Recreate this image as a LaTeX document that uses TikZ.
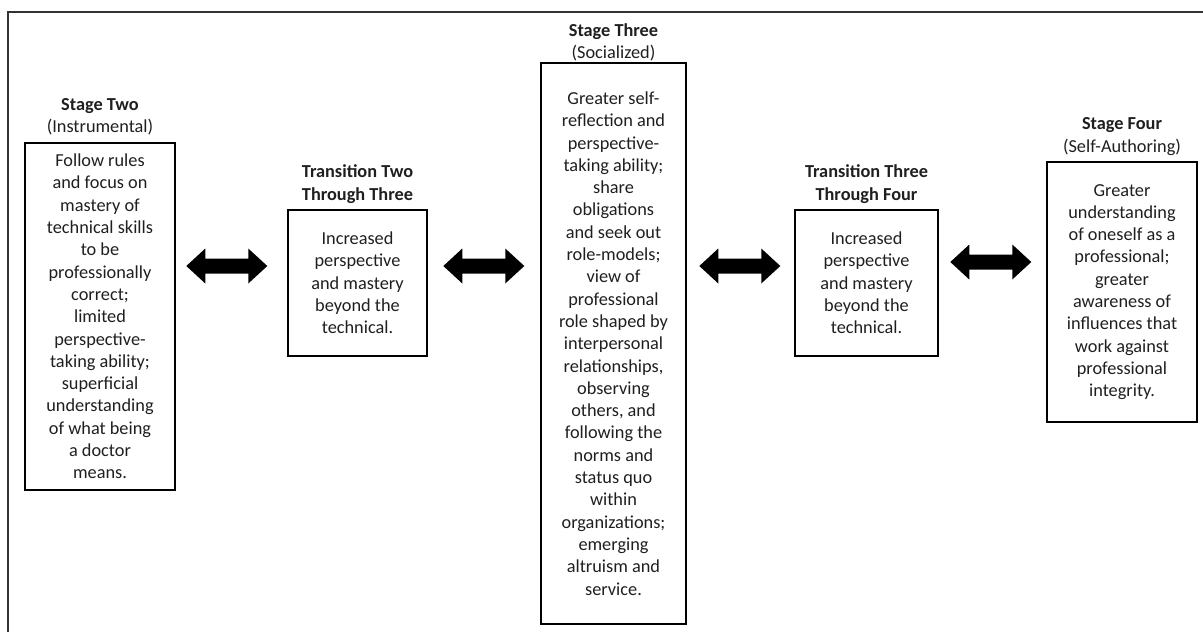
\documentclass[tikz,border=0pt]{standalone}
\usepackage{fontspec}
\setmainfont{Carlito}
\usetikzlibrary{calc}
\newcommand\fatarr[1]{\fill[black] (#1) -- ++(19,-17.5) -- ++(0,10) -- ++(43,0) -- ++(0,-10) -- ++(19,17.5) -- ++(-19,17.5) -- ++(0,-10) -- ++(-43,0) -- ++(0,10) -- cycle;}
\begin{document}
\begin{tikzpicture}[x=1pt,y=-1pt,
  box/.style={draw=black, line width=2.6pt, align=center, inner sep=0pt,
    font=\fontsize{18.3}{22.3}\selectfont, text=black!88},
  ttl/.style={align=center, inner sep=0pt,
    font=\fontsize{18.3}{22.3}\selectfont, text=black!88},
  frame/.style={line width=2pt, draw=black!80}]
\useasboundingbox (0,0) rectangle (1203,632);
\draw[frame] (8,640) -- (8,12) -- (1210,12);

% boxes
\node[box, minimum width=150pt, minimum height=347pt] (s2) at (100,316.5) {Follow rules\\and focus on\\mastery of\\technical skills\\to be\\professionally\\correct;\\limited\\perspective-\\taking ability;\\superficial\\understanding\\of what being\\a doctor\\means.};
\node[box, minimum width=139pt, minimum height=146pt] (t1) at (357.5,283) {Increased\\perspective\\and mastery\\beyond the\\technical.};
\node[box, minimum width=145pt, minimum height=561pt] (s3) at (613.5,343.5) {Greater self-\\reflection and\\perspective-\\taking ability;\\share\\obligations\\and seek out\\role-models;\\view of\\professional\\role shaped by\\interpersonal\\relationships,\\observing\\others, and\\following the\\norms and\\status quo\\within\\organizations;\\emerging\\altruism and\\service.};
\node[box, minimum width=143pt, minimum height=146pt] (t2) at (866.5,283) {Increased\\perspective\\and mastery\\beyond the\\technical.};
\node[box, minimum width=150pt, minimum height=260pt] (s4) at (1122,292) {Greater\\understanding\\of oneself as a\\professional;\\greater\\awareness of\\influences that\\work against\\professional\\integrity.};

% titles
\node[ttl] (s2t) at (100,116.5) {\textbf{Stage Two}\\(Instrumental)};
\node[ttl] (t1t) at (357.5,184) {\textbf{Transition Two}\\\textbf{Through Three}};
\node[ttl] (s3t) at (613.5,42) {\textbf{Stage Three}\\(Socialized)};
\node[ttl] (t2t) at (866.5,184) {\textbf{Transition Three}\\\textbf{Through Four}};
\node[ttl] (s4t) at (1122,136.5) {\textbf{Stage Four}\\(Self-Authoring)};

% double arrows
\coordinate (a1) at ($(s2.east |- 0,266)+(10,0)$);
\coordinate (a2) at ($(t1.east |- 0,266)+(15,0)$);
\coordinate (a3) at ($(s3.east |- 0,266)+(12,0)$);
\coordinate (a4) at ($(t2.east |- 0,262)+(11,0)$);
\fatarr{a1}
\fatarr{a2}
\fatarr{a3}
\fatarr{a4}
\end{tikzpicture}
\end{document}
